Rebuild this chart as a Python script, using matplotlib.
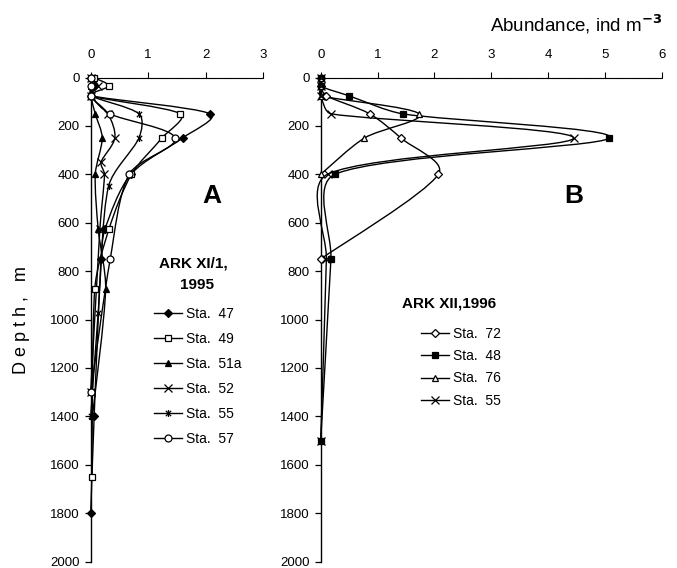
import matplotlib
matplotlib.use('Agg')
import matplotlib.pyplot as plt
from matplotlib.path import Path
from matplotlib.patches import PathPatch
from matplotlib.lines import Line2D
import numpy as np

plt.rcParams['font.family'] = ['Liberation Sans', 'DejaVu Sans']

# ---- panel A: ARK XI/1, 1995 ----
a_st47_depth = [0, 35, 75, 150, 250, 400, 625, 750, 1400, 1800]
a_st47_val = [0, 0.05, 0, 2.08, 1.6, 0.7, 0.25, 0.18, 0.06, 0]
a_st49_depth = [0, 35, 75, 150, 250, 400, 625, 875, 1650]
a_st49_val = [0.05, 0.31, 0, 1.56, 1.24, 0.71, 0.32, 0.07, 0.02]
a_st51a_depth = [0, 35, 75, 150, 250, 400, 625, 875, 1400]
a_st51a_val = [0, 0, 0, 0.08, 0.2, 0.08, 0.13, 0.26, 0.03]
a_st52_depth = [0, 35, 75, 150, 250, 350, 400, 625, 1300]
a_st52_val = [0, 0.13, 0, 0.3, 0.42, 0.18, 0.24, 0.16, 0]
a_st55_depth = [0, 35, 75, 150, 250, 450, 975, 1400]
a_st55_val = [0, 0.05, 0, 0.84, 0.84, 0.31, 0.13, 0]
a_st57_depth = [0, 35, 75, 150, 250, 400, 750, 1300]
a_st57_val = [0, 0, 0, 0.33, 1.47, 0.67, 0.34, 0]

# ---- panel B: ARK XII, 1996 ----
b_st72_depth = [0, 35, 75, 150, 250, 400, 750]
b_st72_val = [0, 0, 0.09, 0.86, 1.41, 2.07, 0]
b_st48_depth = [0, 35, 75, 150, 250, 400, 750, 1500]
b_st48_val = [0, 0, 0.49, 1.44, 5.08, 0.25, 0.18, 0]
b_st76_depth = [0, 35, 75, 150, 250, 400]
b_st76_val = [0, 0, 0, 1.73, 0.77, 0]
b_st55_depth = [0, 35, 75, 150, 250, 400, 750, 1500]
b_st55_val = [0, 0, 0, 0.18, 4.45, 0.12, 0.1, 0]

depth_ticks = list(range(0, 2001, 200))

W, H = 677, 568
fig = plt.figure(figsize=(W / 100, H / 100), dpi=100)

# asterisk marker: x with a vertical bar
star = Path([(-1, -1), (1, 1), (-1, 1), (1, -1), (0, -1.3), (0, 1.3)],
            [Path.MOVETO, Path.LINETO, Path.MOVETO, Path.LINETO, Path.MOVETO, Path.LINETO])


def smooth(ax, x, y):
    # smoothed line like excel: catmull-rom bezier, handles capped by chord length
    tr = ax.transData
    pts = tr.transform(np.column_stack([x, y]).astype(float))
    n = len(pts)
    tang = [(pts[min(i + 1, n - 1)] - pts[max(i - 1, 0)]) / 6 for i in range(n)]

    def cap(t, chord):
        l = np.hypot(*t)
        lim = chord * 0.3
        return t * (lim / l) if l > lim else t

    verts = [pts[0]]
    codes = [Path.MOVETO]
    for i in range(n - 1):
        p1, p2 = pts[i], pts[i + 1]
        chord = np.hypot(*(p2 - p1))
        verts += [p1 + cap(tang[i], chord), p2 - cap(tang[i + 1], chord), p2]
        codes += [Path.CURVE4] * 3
    verts = tr.inverted().transform(np.array(verts))
    ax.add_patch(PathPatch(Path(verts, codes), fill=False, lw=1.0,
                           edgecolor='black', clip_on=False))


def series(ax, x, y, marker, fill, ms=5):
    smooth(ax, x, y)
    ax.plot(x, y, ls='none', marker=marker, ms=ms, mfc='black' if fill else 'white',
            mec='black', mew=0.9, clip_on=False, zorder=3)


def setup(ax, xmax):
    ax.set_xlim(0, xmax)
    ax.set_ylim(2000, 0)
    ax.xaxis.tick_top()
    ax.set_xticks(range(0, xmax + 1))
    ax.set_yticks(depth_ticks)
    ax.spines['right'].set_visible(False)
    ax.spines['bottom'].set_visible(False)
    ax.spines['top'].set_linestyle((0, (1, 0.6)))
    ax.spines['top'].set_linewidth(0.8)
    ax.spines['left'].set_linewidth(1.0)
    ax.tick_params(axis='x', direction='out', length=4, width=0.8, pad=8, labelsize=9.5)
    ax.tick_params(axis='y', direction='out', length=4, width=0.9, pad=4, labelsize=9.5)
    ax.patch.set_alpha(0)


def px(x, y):
    return x / W, 1 - y / H


axA = fig.add_axes([90.7 / W, 1 - 561.5 / H, 172.3 / W, 484 / H])
axB = fig.add_axes([320.7 / W, 1 - 561.5 / H, 341 / W, 484 / H])
setup(axA, 3)
setup(axB, 6)

series(axA, a_st47_val, a_st47_depth, 'D', True, 4.5)
series(axA, a_st49_val, a_st49_depth, 's', False)
series(axA, a_st51a_val, a_st51a_depth, '^', True)
series(axA, a_st52_val, a_st52_depth, 'x', False, 5.5)
series(axA, a_st55_val, a_st55_depth, star, False, 5)
series(axA, a_st57_val, a_st57_depth, 'o', False)

series(axB, b_st72_val, b_st72_depth, 'D', False, 4.5)
series(axB, b_st48_val, b_st48_depth, 's', True)
series(axB, b_st76_val, b_st76_depth, '^', False)
series(axB, b_st55_val, b_st55_depth, 'x', False, 5.5)


def handle(marker, fill, ms=5):
    return Line2D([], [], color='black', lw=1.0, marker=marker, ms=ms,
                  mfc='black' if fill else 'white', mec='black', mew=0.9)


legA = fig.legend([handle('D', True, 4.5), handle('s', False), handle('^', True),
                   handle('x', False, 5.5), handle(star, False), handle('o', False)],
                  ['Sta.  47', 'Sta.  49', 'Sta.  51a', 'Sta.  52', 'Sta.  55', 'Sta.  57'],
                  loc='upper left', bbox_to_anchor=px(154, 307), frameon=False,
                  borderpad=0, borderaxespad=0, handlelength=2.0, handletextpad=0.3,
                  labelspacing=0.79, fontsize=10)
legB = fig.legend([handle('D', False, 4.5), handle('s', True), handle('^', False),
                   handle('x', False, 5.5)],
                  ['Sta.  72', 'Sta.  48', 'Sta.  76', 'Sta.  55'],
                  loc='upper left', bbox_to_anchor=px(421, 327), frameon=False,
                  borderpad=0, borderaxespad=0, handlelength=2.0, handletextpad=0.3,
                  labelspacing=0.59, fontsize=10)

fig.text(*px(193, 263), 'ARK XI/1,', fontsize=11, fontweight='bold', ha='center', va='center')
fig.text(*px(197, 285), '1995', fontsize=11, fontweight='bold', ha='center', va='center')
fig.text(*px(402, 303), 'ARK XII,1996', fontsize=11, fontweight='bold', ha='left', va='center')
fig.text(*px(212, 196), 'A', fontsize=19, fontweight='bold', ha='center', va='center')
fig.text(*px(574, 196), 'B', fontsize=19, fontweight='bold', ha='center', va='center')
fig.text(*px(662, 24), r'Abundance, ind m$^{\mathbf{-3}}$', fontsize=13.5, ha='right', va='center')
fig.text(*px(22, 320), 'D e p t h ,   m', fontsize=13, rotation=90, ha='center', va='center')

fig.savefig('out.png', dpi=100)
